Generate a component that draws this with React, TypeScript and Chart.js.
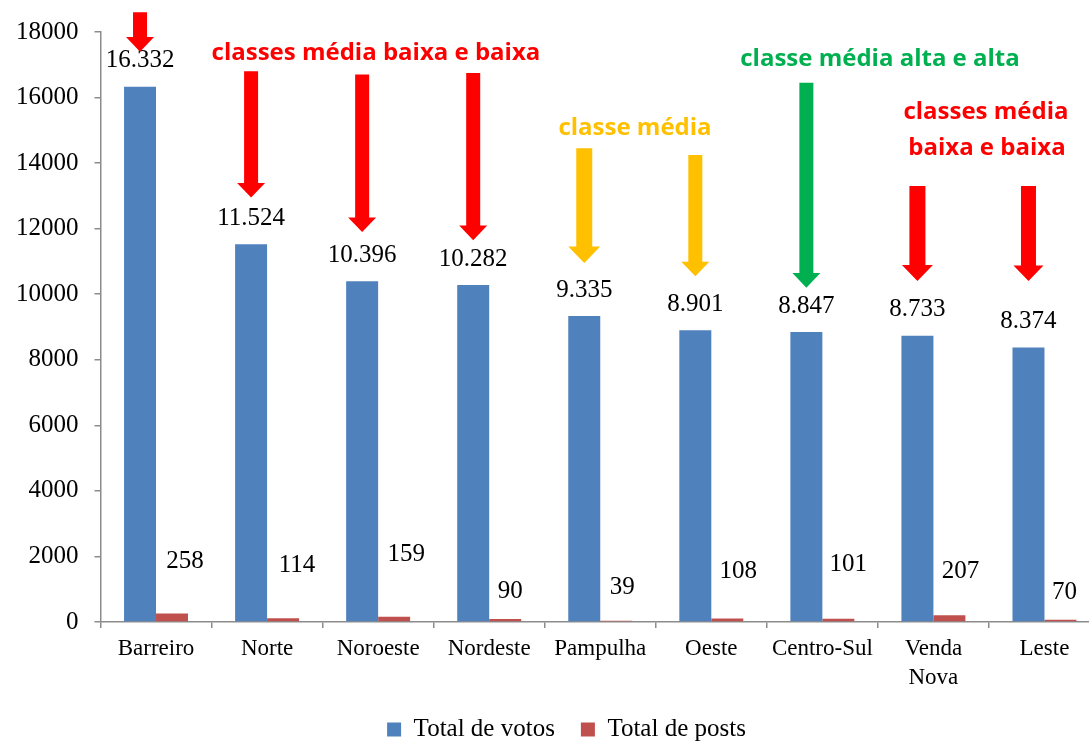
import React, { useEffect, useRef } from 'react';
import { Chart, registerables } from 'chart.js';

Chart.register(...registerables);

// ---- data ----
const categories: (string | string[])[] = [
  'Barreiro', 'Norte', 'Noroeste', 'Nordeste', 'Pampulha', 'Oeste', 'Centro-Sul', ['Venda', 'Nova'], 'Leste',
];
const totalVotos = [16332, 11524, 10396, 10282, 9335, 8901, 8847, 8733, 8374];
const totalPosts = [258, 114, 159, 90, 39, 108, 101, 207, 70];
const seriesNames = ['Total de votos', 'Total de posts'];
const yMin = 0;
const yMax = 18000;
const yStep = 2000;

// ---- styling / annotation config ----
const BLUE = '#4F81BD';
const DARKRED = '#C0504D';
const RED = '#FF0000';
const YELLOW = '#FFC000';
const GREEN = '#00B050';
const AXIS = '#8C8C8C';
const SERIF = '"Liberation Serif", "Times New Roman", serif';
const SANS = '"Open Sans", "Noto Sans", sans-serif';

// manual placement of the small "posts" labels (pixel offsets from bar top centre)
const postLabelDx = [13, 14, 12, 5, 6, 11, 10, 11, 4];
const postLabelDy = [-52, -53, -62, -28, -33, -47, -54, -44, -27];

// arrows: category index, start and tip in axis units
const arrows = [
  { i: 0, from: 18600, to: 17400, color: RED, shaft: 14, head: 28 },
  { i: 1, from: 16800, to: 12950, color: RED, shaft: 14, head: 28 },
  { i: 2, from: 16700, to: 11900, color: RED, shaft: 14, head: 28 },
  { i: 3, from: 16750, to: 11650, color: RED, shaft: 14, head: 28 },
  { i: 4, from: 14450, to: 10950, color: YELLOW, shaft: 16, head: 32 },
  { i: 5, from: 14250, to: 10550, color: YELLOW, shaft: 14, head: 28 },
  { i: 6, from: 16450, to: 10200, color: GREEN, shaft: 14, head: 28 },
  { i: 7, from: 13300, to: 10400, color: RED, shaft: 16, head: 31 },
  { i: 8, from: 13300, to: 10400, color: RED, shaft: 15, head: 30 },
];

// notes: x in category units, y (baseline) in axis units
const notes = [
  { text: 'classes média baixa e baixa', x: 1.98, y: 17150, color: RED },
  { text: 'classe média', x: 4.313, y: 14850, color: YELLOW },
  { text: 'classe média alta e alta', x: 6.519, y: 16950, color: GREEN },
  { text: 'classes média', x: 7.473, y: 15350, color: RED },
  { text: 'baixa e baixa', x: 7.482, y: 14250, color: RED },
];

const fmtThousands = (v: number) => String(v).replace(/\B(?=(\d{3})+(?!\d))/g, '.');

const annotatePlugin = {
  id: 'annotate',
  afterDatasetsDraw(chart: any) {
    const ctx: CanvasRenderingContext2D = chart.ctx;
    const xs = chart.scales.x;
    const ys = chart.scales.y;
    const m0 = chart.getDatasetMeta(0);
    const m1 = chart.getDatasetMeta(1);
    ctx.save();
    // value labels
    ctx.fillStyle = '#000';
    ctx.font = `25px ${SERIF}`;
    ctx.textAlign = 'center';
    ctx.textBaseline = 'middle';
    m0.data.forEach((bar: any, i: number) => {
      ctx.fillText(fmtThousands(totalVotos[i]), bar.x, bar.y - 26);
    });
    m1.data.forEach((bar: any, i: number) => {
      ctx.fillText(String(totalPosts[i]), bar.x + postLabelDx[i], bar.y + postLabelDy[i]);
    });
    // arrows
    arrows.forEach((a) => {
      const bar = m0.data[a.i];
      const x = bar.x;
      const y0 = ys.getPixelForValue(a.from);
      const y1 = ys.getPixelForValue(a.to);
      const headLen = a.head * 0.52;
      const hs = y1 - headLen;
      ctx.fillStyle = a.color;
      ctx.beginPath();
      ctx.moveTo(x - a.shaft / 2, y0);
      ctx.lineTo(x + a.shaft / 2, y0);
      ctx.lineTo(x + a.shaft / 2, hs);
      ctx.lineTo(x + a.head / 2, hs);
      ctx.lineTo(x, y1);
      ctx.lineTo(x - a.head / 2, hs);
      ctx.lineTo(x - a.shaft / 2, hs);
      ctx.closePath();
      ctx.fill();
    });
    // notes
    ctx.font = `bold 24px ${SANS}`;
    ctx.textAlign = 'center';
    ctx.textBaseline = 'alphabetic';
    notes.forEach((n) => {
      ctx.fillStyle = n.color;
      ctx.fillText(n.text, xs.getPixelForValue(n.x), ys.getPixelForValue(n.y));
    });
    ctx.restore();
  },
};

// centre the legend under the span from x=33 to the plot's right edge
const legendPlacePlugin = {
  id: 'legendPlace',
  afterLayout(chart: any) {
    const l = chart.legend;
    if (l) {
      l.left = 33;
      l.width = l.right - l.left;
    }
  },
};

export default function App() {
  const ref = useRef<HTMLCanvasElement | null>(null);

  useEffect(() => {
    if (!ref.current) return;
    Chart.defaults.font.family = SERIF;
    const chart = new Chart(ref.current, {
      type: 'bar',
      data: {
        labels: categories as any,
        datasets: [
          {
            label: seriesNames[0],
            data: totalVotos,
            backgroundColor: BLUE,
            borderWidth: 0,
            categoryPercentage: 0.576,
            barPercentage: 1,
          },
          {
            label: seriesNames[1],
            data: totalPosts,
            backgroundColor: DARKRED,
            borderWidth: 0,
            categoryPercentage: 0.576,
            barPercentage: 1,
          },
        ],
      },
      options: {
        responsive: false,
        maintainAspectRatio: false,
        animation: false,
        devicePixelRatio: 1,
        layout: { padding: { left: 0, right: 10, top: 32, bottom: 0 } },
        plugins: {
          tooltip: { enabled: false },
          legend: {
            position: 'bottom',
            labels: {
              boxWidth: 14,
              boxHeight: 14,
              padding: 26,
              color: '#000',
              font: { size: 25, family: SERIF },
            },
          },
        },
        scales: {
          x: {
            grid: {
              display: true,
              drawOnChartArea: false,
              drawTicks: true,
              tickLength: 6,
              color: AXIS,
              lineWidth: 1.5,
              offset: true,
            },
            border: { display: true, color: AXIS, width: 1.5 },
            ticks: {
              color: '#000',
              font: { size: 23, family: SERIF, lineHeight: 1.25 },
              padding: 7,
              maxRotation: 0,
              autoSkip: false,
            },
            afterFit: (s: any) => {
              s.height = 69;
            },
          },
          y: {
            min: yMin,
            max: yMax,
            grid: {
              display: true,
              drawOnChartArea: false,
              drawTicks: true,
              tickLength: 6,
              color: AXIS,
              lineWidth: 1.5,
            },
            border: { display: true, color: AXIS, width: 1.5 },
            ticks: {
              stepSize: yStep,
              color: '#000',
              font: { size: 25, family: SERIF },
              padding: 16,
              callback: (v: any) => String(v),
            },
            afterFit: (s: any) => {
              s.width = 100.5;
            },
          },
        },
      },
      plugins: [annotatePlugin, legendPlacePlugin],
    });
    return () => chart.destroy();
  }, []);

  return (
    <div
      style={{
        position: 'absolute',
        left: 0,
        top: 0,
        width: 1089,
        height: 742,
        overflow: 'hidden',
        background: '#fff',
      }}
    >
      <canvas ref={ref} width={1110} height={752} style={{ display: 'block', width: 1110, height: 752 }} />
    </div>
  );
}
